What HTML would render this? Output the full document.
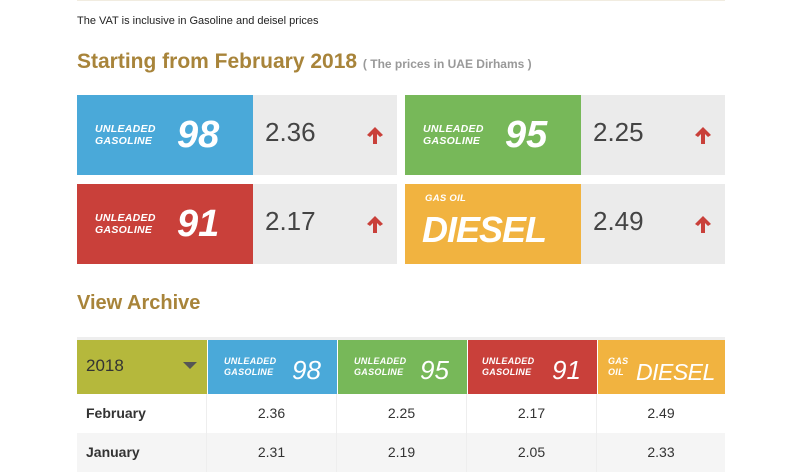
<!DOCTYPE html>
<html><head><meta charset="utf-8"><style>
body{margin:0;width:800px;height:450px;overflow:hidden;background:#fff;font-family:"Liberation Sans",sans-serif;position:relative}
.abs{position:absolute}
.card{position:absolute;height:80px;width:320px}
.cb{position:absolute;left:0;top:0;width:176px;height:80px;color:#fff}
.gb{position:absolute;left:176px;top:0;width:144px;height:80px;background:#ebebeb}
.lbl{position:absolute;font-style:italic;font-weight:bold;font-size:10.5px;line-height:12px;letter-spacing:0.3px}
.num{position:absolute;font-style:italic;font-weight:bold;font-size:38px;line-height:40px}
.price{position:absolute;left:12px;top:22px;font-size:26px;color:#444}
.arr{position:absolute;left:112px;top:30px}
.th{position:absolute;top:340px;height:54px;color:#fff}
.cell{position:absolute;height:39px;line-height:39px;text-align:center;font-size:14px;color:#333;border-right:1px solid #eee}
</style></head><body>
<div class="abs" style="left:77px;top:0;width:648px;height:1px;background:#f1ece0"></div>
<div class="abs" style="left:77px;top:15px;font-size:11px;color:#222">The VAT is inclusive in Gasoline and deisel prices</div>
<div class="abs" style="left:77px;top:50px;font-size:21px;font-weight:bold;color:#a8843a">Starting from February 2018 <span style="font-size:12px;color:#999">( The prices in UAE Dirhams )</span></div>

<div class="card" style="left:77px;top:95px"><div class="cb" style="background:#4aa9d9"><div class="lbl" style="left:18px;top:28px">UNLEADED<br>GASOLINE</div><div class="num" style="left:100px;top:20px">98</div></div><div class="gb"><div class="price">2.36</div><svg class="arr" width="20" height="20" viewBox="0 0 20 20"><path d="M10 2 L18 10 L15 12 L12 9 L12 19 L8 19 L8 9 L5 12 L2 10 Z" fill="#c9403a"/></svg></div></div>
<div class="card" style="left:405px;top:95px"><div class="cb" style="background:#77b859"><div class="lbl" style="left:18px;top:28px">UNLEADED<br>GASOLINE</div><div class="num" style="left:100px;top:20px">95</div></div><div class="gb"><div class="price">2.25</div><svg class="arr" width="20" height="20" viewBox="0 0 20 20"><path d="M10 2 L18 10 L15 12 L12 9 L12 19 L8 19 L8 9 L5 12 L2 10 Z" fill="#c9403a"/></svg></div></div>
<div class="card" style="left:77px;top:184px"><div class="cb" style="background:#c9403a"><div class="lbl" style="left:18px;top:28px">UNLEADED<br>GASOLINE</div><div class="num" style="left:100px;top:20px">91</div></div><div class="gb"><div class="price">2.17</div><svg class="arr" width="20" height="20" viewBox="0 0 20 20"><path d="M10 2 L18 10 L15 12 L12 9 L12 19 L8 19 L8 9 L5 12 L2 10 Z" fill="#c9403a"/></svg></div></div>
<div class="card" style="left:405px;top:184px"><div class="cb" style="background:#f1b340"><div class="lbl" style="left:20px;top:9px;font-size:9.5px">GAS OIL</div><div class="num" style="left:17px;top:26px;font-size:36px;letter-spacing:-1px">DIESEL</div></div><div class="gb"><div class="price">2.49</div><svg class="arr" width="20" height="20" viewBox="0 0 20 20"><path d="M10 2 L18 10 L15 12 L12 9 L12 19 L8 19 L8 9 L5 12 L2 10 Z" fill="#c9403a"/></svg></div></div>

<div class="abs" style="left:77px;top:292px;font-size:20px;font-weight:bold;color:#a8843a">View Archive</div>
<div class="abs" style="left:77px;top:337px;width:648px;height:3px;background:#eee"></div>
<div class="th" style="left:77px;width:130px;background:#b5b83c;color:#333"><span style="position:absolute;left:9px;top:16px;font-size:17px">2018</span><span style="position:absolute;left:106px;top:22px;border-left:7px solid transparent;border-right:7px solid transparent;border-top:7px solid #555"></span></div>
<div class="th" style="left:208px;width:129px;background:#4aa9d9"><div class="lbl" style="left:16px;top:16px;font-size:9px;line-height:11px">UNLEADED<br>GASOLINE</div><div class="num" style="left:84px;top:10px;font-size:26px;font-weight:normal">98</div></div>
<div class="th" style="left:338px;width:129px;background:#77b859"><div class="lbl" style="left:16px;top:16px;font-size:9px;line-height:11px">UNLEADED<br>GASOLINE</div><div class="num" style="left:82px;top:10px;font-size:26px;font-weight:normal">95</div></div>
<div class="th" style="left:468px;width:129px;background:#c9403a"><div class="lbl" style="left:14px;top:16px;font-size:9px;line-height:11px">UNLEADED<br>GASOLINE</div><div class="num" style="left:84px;top:10px;font-size:26px;font-weight:normal">91</div></div>
<div class="th" style="left:598px;width:127px;background:#f1b340;overflow:hidden"><div class="lbl" style="left:10px;top:16px;font-size:9px;line-height:11px">GAS<br>OIL</div><div class="num" style="left:38px;top:12px;font-size:23px;font-weight:normal;letter-spacing:-0.5px">DIESEL</div></div>

<div class="abs" style="left:77px;top:394px;width:648px;height:39px;background:#fff">
<div class="cell" style="left:0;width:120px;text-align:left;padding-left:9px;font-weight:bold">February</div>
<div class="cell" style="left:130px;width:129px">2.36</div><div class="cell" style="left:260px;width:129px">2.25</div><div class="cell" style="left:390px;width:129px">2.17</div><div class="cell" style="left:520px;width:128px;border:none">2.49</div></div>
<div class="abs" style="left:77px;top:433px;width:648px;height:39px;background:#f5f5f5">
<div class="cell" style="left:0;width:120px;text-align:left;padding-left:9px;font-weight:bold">January</div>
<div class="cell" style="left:130px;width:129px">2.31</div><div class="cell" style="left:260px;width:129px">2.19</div><div class="cell" style="left:390px;width:129px">2.05</div><div class="cell" style="left:520px;width:128px;border:none">2.33</div></div>
</body></html>
